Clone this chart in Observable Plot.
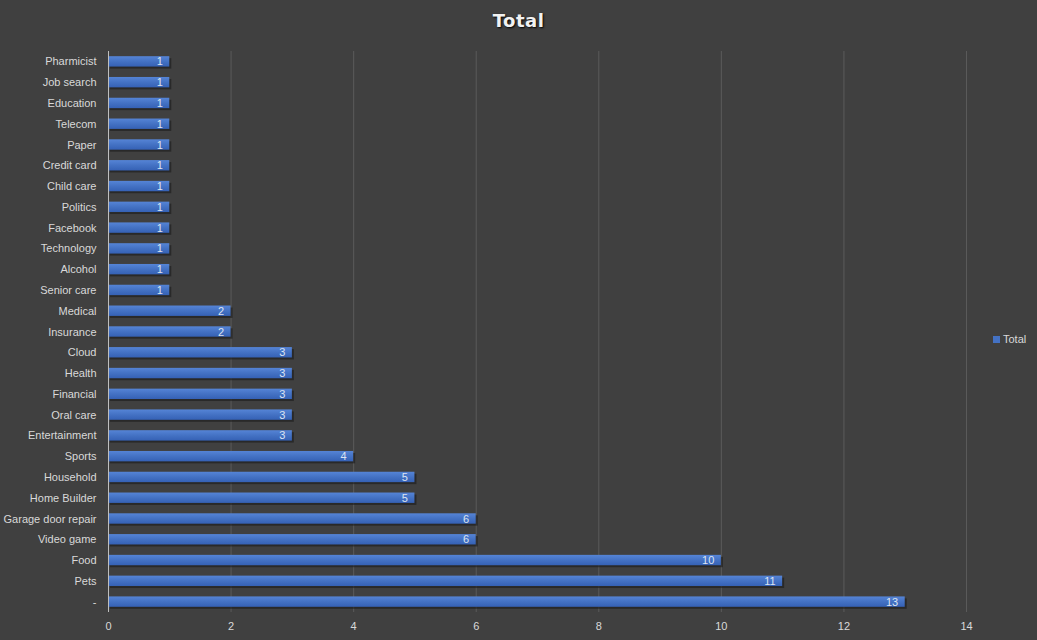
<!DOCTYPE html>
<html>
<head>
<meta charset="utf-8">
<script src="https://cdn.jsdelivr.net/npm/d3@7"></script>
<script src="https://cdn.jsdelivr.net/npm/@observablehq/plot@0.6"></script>
<style>
  html, body { margin: 0; padding: 0; background: #404040; }
  #wrap { position: relative; width: 1037px; height: 640px; background: #404040; overflow: hidden; font-family: "Liberation Sans", "DejaVu Sans", sans-serif; }
  #title { height: 40px; line-height: 42px; text-align: center; color: #f2f2f2; font-weight: bold; font-size: 18px; letter-spacing: 0.5px; font-family: "DejaVu Sans", sans-serif; text-shadow: 1px 1px 2px #000; }
  #legend { position: absolute; left: 993px; top: 333px; color: #d9d9d9; font-size: 11px; display: flex; align-items: center; }
  #legend span.sw { display: inline-block; width: 7px; height: 7px; background: #4472c4; margin-right: 3px; }
</style>
</head>
<body>
<div id="wrap">
  <div id="title">Total</div>
  <div id="chart"></div>
  <div id="legend"><span class="sw"></span>Total</div>
</div>
<script>
const categories = ["Pharmicist","Job search","Education","Telecom","Paper","Credit card","Child care","Politics","Facebook","Technology","Alcohol","Senior care","Medical","Insurance","Cloud","Health","Financial","Oral care","Entertainment","Sports","Household","Home Builder","Garage door repair","Video game","Food","Pets","-"];
const values = [1,1,1,1,1,1,1,1,1,1,1,1,2,2,3,3,3,3,3,4,5,5,6,6,10,11,13];
const xTicks = [0,2,4,6,8,10,12,14];

const data = categories.map((c, i) => ({category: c, value: values[i]}));

const plot = Plot.plot({
  width: 1037,
  height: 600,
  marginTop: 11,
  marginBottom: 28,
  marginLeft: 108,
  marginRight: 71,
  style: {background: "#404040", color: "#d9d9d9", fontSize: "11px", fontFamily: "'Liberation Sans', 'DejaVu Sans', sans-serif"},
  x: {domain: [0, 14], ticks: xTicks, label: null, tickSize: 0, tickPadding: 10},
  y: {domain: categories, label: null, tickSize: 0, tickPadding: 12, paddingInner: 0.5, paddingOuter: 0.25, round: false},
  marks: [
    Plot.ruleX(xTicks.filter(d => d > 0), {stroke: "#5a5a5a", strokeWidth: 1}),
    Plot.barX(data, {x: "value", y: "category", fill: "#1a1a1a", fillOpacity: 0.6, dx: 2, dy: 2}),
    Plot.barX(data, {x: "value", y: "category", fill: "url(#barGrad)"}),
    Plot.ruleX([0], {stroke: "#bfbfbf", strokeWidth: 1}),
    Plot.text(data, {x: "value", y: "category", text: d => String(d.value), textAnchor: "end", dx: -7, fill: "#dce4f2", fontSize: 11})
  ]
});

const defs = d3.select(plot).insert("defs", ":first-child");
const g = defs.append("linearGradient").attr("id", "barGrad").attr("x1", 0).attr("y1", 0).attr("x2", 0).attr("y2", 1);
g.append("stop").attr("offset", "0%").attr("stop-color", "#5584d6");
g.append("stop").attr("offset", "50%").attr("stop-color", "#4472c4");
g.append("stop").attr("offset", "100%").attr("stop-color", "#3561b5");

document.getElementById("chart").appendChild(plot);
</script>
</body>
</html>
